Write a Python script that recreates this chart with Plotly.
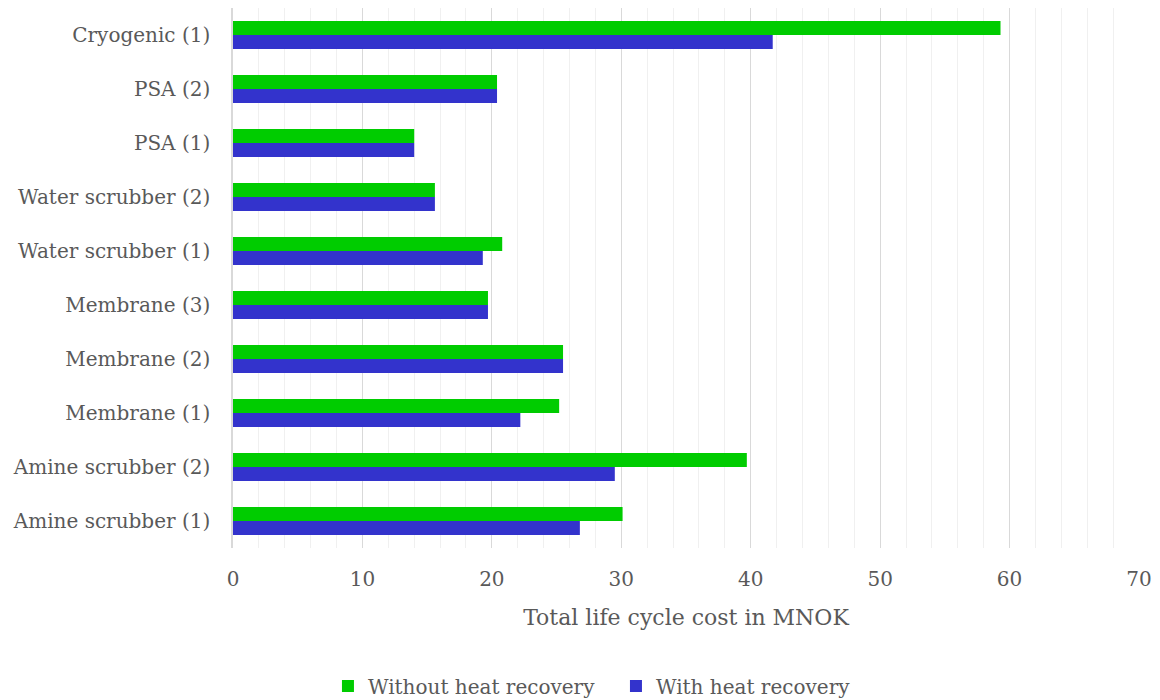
import plotly.graph_objects as go

# Upgrading technologies, listed bottom to top on the category axis
categories = [
    "Amine scrubber (1)", "Amine scrubber (2)", "Membrane (1)", "Membrane (2)",
    "Membrane (3)", "Water scrubber (1)", "Water scrubber (2)", "PSA (1)",
    "PSA (2)", "Cryogenic (1)",
]
# Total life cycle cost in MNOK
without_heat_recovery = [30.1, 39.7, 25.2, 25.5, 19.7, 20.8, 15.6, 14.0, 20.4, 59.3]
with_heat_recovery = [26.8, 29.5, 22.2, 25.5, 19.7, 19.3, 15.6, 14.0, 20.4, 41.7]

x_ticks = [0, 10, 20, 30, 40, 50, 60, 70]

FONT = "DejaVu Serif"
TEXT = "#595959"
GREEN = "#00CC00"
BLUE = "#3333CC"

fig = go.Figure()
# Blue goes in first so that it sits below the green bar in each group
fig.add_trace(go.Bar(
    y=categories, x=with_heat_recovery, orientation="h",
    name="With heat recovery", marker=dict(color=BLUE, line=dict(width=0)),
    legendrank=2,
))
fig.add_trace(go.Bar(
    y=categories, x=without_heat_recovery, orientation="h",
    name="Without heat recovery", marker=dict(color=GREEN, line=dict(width=0)),
    legendrank=1,
))

fig.update_layout(
    width=1160, height=700,
    margin=dict(l=233, r=19, t=8, b=152),
    paper_bgcolor="white", plot_bgcolor="white",
    barmode="group", bargap=0.48, bargroupgap=0,
    font=dict(family=FONT, color=TEXT, size=20),
    legend=dict(
        orientation="h", xref="container", yref="container",
        x=0.531, xanchor="center", y=0.02, yanchor="middle",
        font=dict(family=FONT, size=20, color=TEXT),
        itemwidth=30, entrywidth=243, entrywidthmode="pixels",
    ),
    showlegend=True,
)

fig.update_xaxes(
    range=[0, 70], tickvals=x_ticks, ticktext=[str(v) for v in x_ticks],
    showgrid=True, gridcolor="#D9D9D9", gridwidth=1.3,
    minor=dict(dtick=2, showgrid=True, gridcolor="#F0F0F0", gridwidth=1.3),
    zeroline=False, showline=False, ticks="",
    ticklabelstandoff=17,
    tickfont=dict(family=FONT, size=20, color=TEXT),
    title=dict(text="Total life cycle cost in MNOK",
               font=dict(family=FONT, size=22, color=TEXT), standoff=19),
    fixedrange=True,
)
fig.update_yaxes(
    categoryorder="array", categoryarray=categories,
    showgrid=False, zeroline=False, showline=True, linecolor="#D9D9D9", linewidth=1.5,
    ticks="", ticklabelstandoff=17,
    tickfont=dict(family=FONT, size=20, color=TEXT),
    fixedrange=True,
)

fig.write_html("out.html")
